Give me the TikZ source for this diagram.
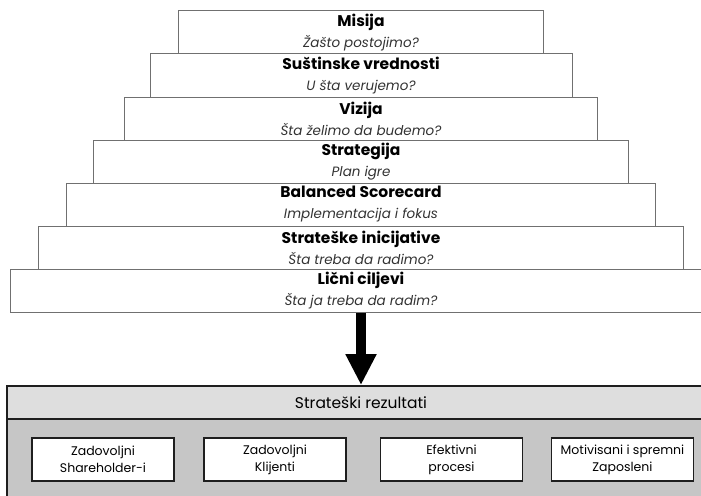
\documentclass[tikz,border=0pt]{standalone}
\usepackage{fontspec}
\setmainfont{Poppins}
\usetikzlibrary{arrows.meta,positioning}
\definecolor{linegray}{HTML}{707070}
\definecolor{darkline}{HTML}{1E1E1E}
\definecolor{headgray}{HTML}{DEDEDE}
\definecolor{lowgray}{HTML}{C6C6C6}
\newcommand{\stp}[2]{{\bfseries #1}\\{\fontsize{13.5}{21}\selectfont\itshape\color{black!80} #2}}
\begin{document}
\begin{tikzpicture}[x=1pt,y=-1pt,
  stepbox/.style={draw=linegray,line width=1pt,fill=white,align=center,minimum height=43pt,inner sep=0pt,font=\fontsize{15.5}{21}\selectfont},
  panel/.style={draw=darkline,line width=1.8pt,minimum width=713pt,inner sep=0pt},
  goal/.style={draw=darkline,line width=1.6pt,fill=white,minimum width=142pt,minimum height=43pt,inner sep=0pt,align=center,font=\fontsize{12.5}{17}\selectfont},
  arr/.style={line width=10pt,-{Triangle[length=31pt,width=29pt]}}]
\useasboundingbox (0,0) rectangle (701,495);
\clip (0,0) rectangle (701,495);
\node[stepbox,minimum width=365pt] (misija) at (361,32.5) {\stp{Misija}{Žašto postojimo?}};
\node[stepbox,minimum width=422pt] (vrednosti) at (361,75.5) {\stp{Suštinske vrednosti}{U šta verujemo?}};
\node[stepbox,minimum width=473pt] (vizija) at (361,118.5) {\stp{Vizija}{Šta želimo da budemo?}};
\node[stepbox,minimum width=535pt] (strategija) at (361,161.5) {\stp{Strategija}{Plan igre}};
\node[stepbox,minimum width=589pt] (bsc) at (361,204.5) {\stp{Balanced Scorecard}{Implementacija i fokus}};
\node[stepbox,minimum width=645pt] (inicijative) at (361,247.5) {\stp{Strateške inicijative}{Šta treba da radimo?}};
\node[stepbox,minimum width=702pt] (ciljevi) at (361,290.5) {\stp{Lični ciljevi}{Šta ja treba da radim?}};
\node[panel,fill=lowgray,minimum height=100pt] (ishodi) at (363.5,469) {};
\node[panel,fill=headgray,minimum height=33pt,font=\fontsize{15.5}{18}\selectfont] (rezultati) at (363.5,402.5) {\hspace*{-5pt}Strateški rezultati};
\node[goal] (shareholderi) at (103,459.5) {Zadovoljni\\Shareholder-i};
\node[goal] (klijenti) at (275,459.5) {Zadovoljni\\Klijenti};
\node[goal] (procesi) at (451.5,459.5) {Efektivni\\procesi};
\node[goal] (zaposleni) at (622.5,459.5) {Motivisani i spremni\\Zaposleni};
\draw[arr] (ciljevi.south) -- (ciljevi.south |- rezultati.north);
\end{tikzpicture}
\end{document}
